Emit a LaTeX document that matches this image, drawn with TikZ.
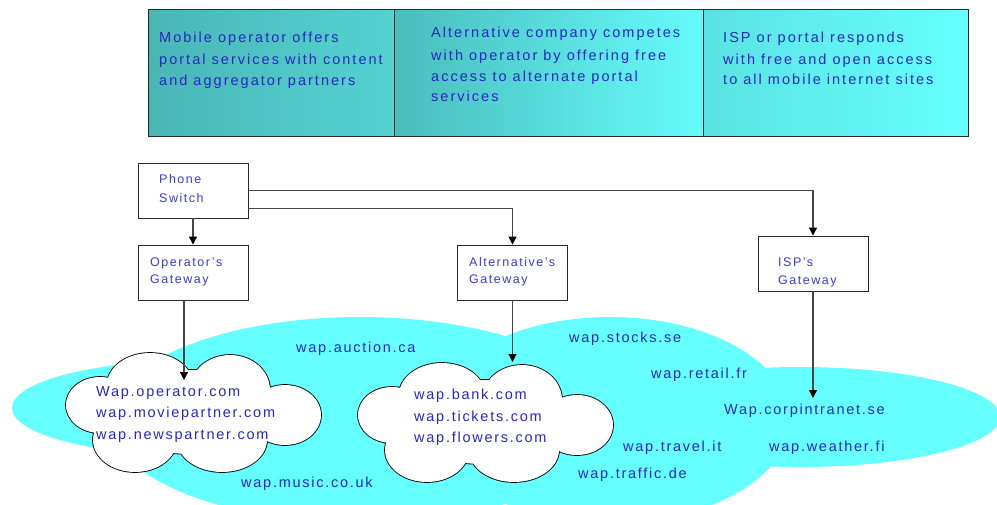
\documentclass[tikz,border=0pt]{standalone}
\usepackage{fontspec}
\setmainfont{Liberation Sans}[LetterSpace=12]
\newfontfamily\banfont{Liberation Sans}[LetterSpace=14]
\usetikzlibrary{arrows.meta,calc}
\definecolor{sky}{RGB}{102,255,255}
\definecolor{ink}{RGB}{40,40,190}
\definecolor{boxink}{RGB}{60,60,210}
\definecolor{edge}{RGB}{40,40,40}
\definecolor{wire}{RGB}{70,70,70}
% puffs of a cloud: centre offset x/y and radii rx/ry
\newcommand\pufflist{-43/-27/43/32, 37/-22/40/35, 92/3/36/30, 29/28/45/32, -58/28/42/32, -93/-7/34/28, 0/0/95/42}
\tikzset{
  bannercell/.style={draw=edge, line width=1.1pt, anchor=north west, inner sep=0pt},
  gatebox/.style={draw=edge, line width=0.9pt, fill=white, minimum width=110pt, minimum height=55pt, inner sep=0pt},
  cloudspot/.style={shape=rectangle, minimum width=256pt, minimum height=119pt, inner sep=0pt},
  conn/.style={draw=wire, line width=1.1pt, -{Triangle[length=8pt,width=8pt,color=black]}},
  bantext/.style={anchor=base west, inner sep=0pt, text=ink, font=\banfont\fontsize{14.5}{16}\selectfont},
  boxtext/.style={anchor=base west, inner sep=0pt, text=boxink, font=\fontsize{12.5}{14}\selectfont},
  site/.style={anchor=base west, inner sep=0pt, text=ink, font=\fontsize{14.5}{16}\selectfont}
}
% white cloud outline round a named spot: outlines first, white union on top
\newcommand\drawcloud[1]{%
  \begin{scope}[shift={(#1.center)}]
    \path[draw=black, line width=1.7pt] foreach \px/\py/\rx/\ry in \pufflist {(\px,\py) ellipse [x radius=\rx pt, y radius=\ry pt]};
    \path[fill=white] foreach \px/\py/\rx/\ry in \pufflist {(\px,\py) ellipse [x radius=\rx pt, y radius=\ry pt]};
  \end{scope}}
\begin{document}
\begin{tikzpicture}[x=1pt,y=-1pt]
\useasboundingbox (0,0) rectangle (997,504);

% cyan network regions
\fill[sky] (200,408) ellipse [x radius=188pt, y radius=48pt];
\fill[sky] (360,420) ellipse [x radius=250pt, y radius=103pt];
\fill[sky] (610,420) ellipse [x radius=180pt, y radius=103pt];
\fill[sky] (800,417) ellipse [x radius=200pt, y radius=50pt];

% banner with the three business models
\node[bannercell, minimum width=246pt, minimum height=127pt,
      left color={rgb,255:red,74;green,182;blue,182}, right color={rgb,255:red,84;green,210;blue,210}] (b1) at (148,9) {};
\node[bannercell, minimum width=309pt, minimum height=127pt,
      left color={rgb,255:red,74;green,188;blue,188}, right color={rgb,255:red,102;green,252;blue,252}] (b2) at (394,9) {};
\node[bannercell, minimum width=265pt, minimum height=127pt,
      left color={rgb,255:red,90;green,226;blue,226}, right color={rgb,255:red,102;green,255;blue,255}] (b3) at (703,9) {};

\node[bantext] (t11) at (159,42) {Mobile operator offers};
\node[bantext] (t12) at (159,64) {portal services with content};
\node[bantext] (t13) at (159,85) {and aggregator partners};

\node[bantext] (t21) at (431,37) {Alternative company competes};
\node[bantext] (t22) at (431,60) {with operator by offering free};
\node[bantext] (t23) at (431,81) {access to alternate portal};
\node[bantext] (t24) at (431,101) {services};

\node[bantext] (t31) at (723,42) {ISP or portal responds};
\node[bantext] (t32) at (723,64) {with free and open access};
\node[bantext] (t33) at (723,84) {to all mobile internet sites};

% portal clouds
\node[cloudspot] (c1) at (193,412) {};
\node[cloudspot] (c2) at (485,422) {};
\drawcloud{c1}
\drawcloud{c2}

\node[site] (s1) at (96,396) {Wap.operator.com};
\node[site] (s2) at (96,417) {wap.moviepartner.com};
\node[site] (s3) at (96,439) {wap.newspartner.com};
\node[site] (s4) at (414,399) {wap.bank.com};
\node[site] (s5) at (414,421) {wap.tickets.com};
\node[site] (s6) at (414,442) {wap.flowers.com};

\node[site] (s7) at (296,352) {wap.auction.ca};
\node[site] (s8) at (241,487) {wap.music.co.uk};
\node[site] (s9) at (569,342) {wap.stocks.se};
\node[site] (s10) at (651,378) {wap.retail.fr};
\node[site] (s11) at (724,414) {Wap.corpintranet.se};
\node[site] (s12) at (623,451) {wap.travel.it};
\node[site] (s13) at (769,451) {wap.weather.fi};
\node[site] (s14) at (578,478) {wap.traffic.de};

% switch and gateways
\node[gatebox] (ps) at (193,190.5) {};
\node[gatebox] (og) at (193,272.5) {};
\node[gatebox] (ag) at (512.5,272.5) {};
\node[gatebox] (ig) at (813,263.5) {};

\node[boxtext] (ps1) at (159,183) {Phone};
\node[boxtext] (ps2) at (159,202) {Switch};
\node[boxtext] (og1) at (150,266) {Operator's};
\node[boxtext] (og2) at (150,283) {Gateway};
\node[boxtext] (ag1) at (469,266) {Alternative's};
\node[boxtext] (ag2) at (469,283) {Gateway};
\node[boxtext] (ig1) at (778,266) {ISP's};
\node[boxtext] (ig2) at (778,284) {Gateway};

% connectors
\coordinate (opin) at (184,380);
\coordinate (altin) at (512.5,362);
\coordinate (ispin) at (813,398);
\draw[conn] (ps.south) -- (og.north);
\draw[conn] (ps.east) -| (ig.north);
\draw[conn] ($(ps.east)+(0,18)$) -| (ag.north);
\draw[conn] (og.south -| opin) -- (opin);
\draw[conn] (ag.south) -- (altin);
\draw[conn] (ig.south) -- (ispin);
\end{tikzpicture}
\end{document}
